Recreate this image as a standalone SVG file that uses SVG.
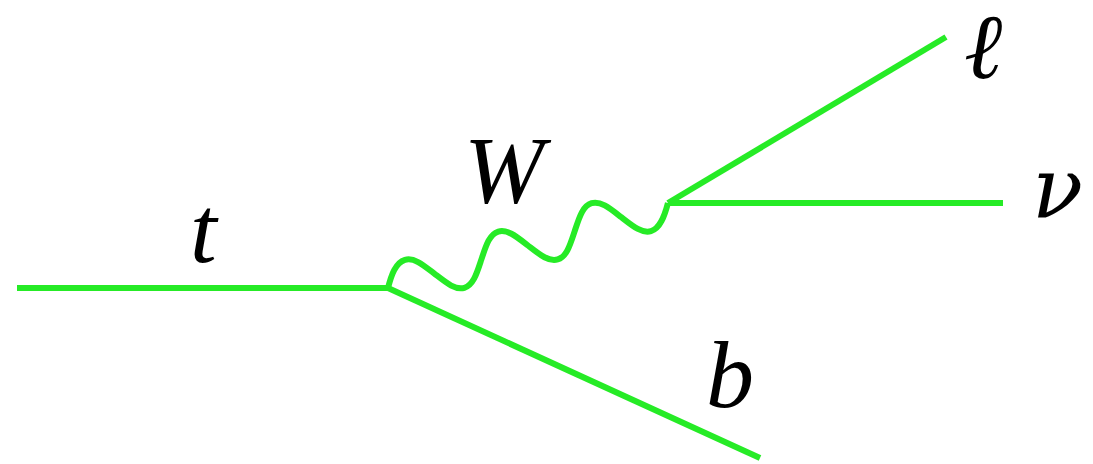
<svg xmlns="http://www.w3.org/2000/svg" width="1093" height="464" viewBox="0 0 1093 464">
<style>
.ln{fill:none;stroke:#26eb26;stroke-width:6;stroke-linecap:butt;stroke-linejoin:round}
.lb{font-family:"Liberation Serif","DejaVu Serif",serif;font-style:italic;font-size:96px;fill:#000}
.gr{font-family:"DejaVu Serif","Liberation Serif",serif;font-style:italic;font-size:84px;fill:#000}
</style>
<rect width="1093" height="464" fill="#fff"/>
<g id="connectors">
<path id="t-line" class="ln" d="M17,288 L388,288"/>
<path id="b-line" class="ln" d="M388,288 L760,458"/>
<path id="W-line" class="ln" transform="translate(388,288) rotate(-16.89)" d="M0,0 c7,-11.5 14.5,-22 24.38,-22 c9.5,0 16.24,10.5 24.38,22 c8.15,11.5 14.9,22 24.38,22 c9.5,0 16.24,-10.5 24.38,-22 c8.15,-11.5 14.9,-22 24.38,-22 c9.5,0 16.24,10.5 24.38,22 c8.15,11.5 14.9,22 24.38,22 c9.5,0 16.24,-10.5 24.38,-22 c8.15,-11.5 14.9,-22 24.38,-22 c9.5,0 16.24,10.5 24.38,22 c8.15,11.5 14.9,22 24.38,22 c9.5,0 17.4,-10.5 24.38,-22"/>
<path id="l-line" class="ln" d="M668,203 L946,37"/>
<path id="nu-line" class="ln" d="M668,203 L1003,203"/>
</g>
<g id="t"><text class="lb" x="190" y="262">t</text></g>
<g id="W"><text class="lb" x="464" y="203">W</text></g>
<g id="b"><text class="lb" x="706" y="407">b</text></g>
<g id="l"><text class="lb" x="964" y="78" style="font-size:92px">ℓ</text></g>
<g id="nu"><text class="gr" x="1032" y="217">ν</text></g>
</svg>
